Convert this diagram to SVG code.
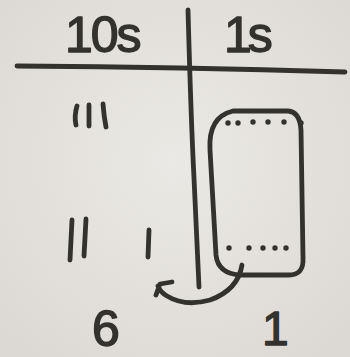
<svg xmlns="http://www.w3.org/2000/svg" width="350" height="357" viewBox="0 0 350 357">
<defs>
<radialGradient id="bg" cx="50%" cy="45%" r="70%">
<stop offset="0" stop-color="#ebe9e5"/>
<stop offset="1" stop-color="#dcd9d4"/>
</radialGradient>
<style>
.ink{fill:none;stroke:#33322f;stroke-width:4.8;stroke-linecap:round;stroke-linejoin:round}
.dot{fill:#33322f}
.t{font-family:"Liberation Sans",Arial,sans-serif;fill:#33322f;stroke:#33322f;stroke-width:1.4;stroke-linejoin:round}
</style>
</defs>
<rect width="350" height="357" fill="url(#bg)"/>
<g id="headers">
<text class="t" x="65" y="52" font-size="50" letter-spacing="-2">10s</text>
<text class="t" x="224" y="52" font-size="50" letter-spacing="-4">1s</text>
</g>
<g id="grid">
<path class="ink" d="M17 66 Q180 67 345 72"/>
<path class="ink" d="M188 10 Q191 120 194 178 Q197 240 199 287"/>
</g>
<g id="tens-tallies">
<path class="ink" d="M77 106 Q74 116 76 125"/>
<path class="ink" d="M89 105 L89 126"/>
<path class="ink" d="M103 104 Q104 117 106 127"/>
<path class="ink" d="M72 220 L70 260"/>
<path class="ink" d="M86 219 L84 256"/>
<path class="ink" d="M149 230 L148 257"/>
</g>
<g id="ones-group">
<path class="ink" d="M233 111 L288 111 Q300 112 301 130 L303 258 Q304 275 289 275 L241 275 Q218 274 216 255 L210 150 Q208 117 233 111 Z"/>
<g class="dot">
<circle cx="228" cy="123" r="2.7"/>
<circle cx="238" cy="123" r="2.7"/>
<circle cx="253" cy="122" r="2.7"/>
<circle cx="268" cy="122" r="2.7"/>
<circle cx="284" cy="122" r="2.7"/>
<circle cx="301" cy="123" r="2.7"/>
<circle cx="229" cy="248" r="2.7"/>
<circle cx="249" cy="248" r="2.7"/>
<circle cx="263" cy="248" r="2.7"/>
<circle cx="275" cy="248" r="2.7"/>
<circle cx="286" cy="248" r="2.7"/>
</g>
</g>
<g id="connectors">
<path class="ink" d="M242 265 Q238 290 210 300 Q185 307 167 296 Q160 292 158 286"/>
<path class="ink" d="M172 282 L160 284 L156 295"/>
</g>
<g id="results">
<text class="t" x="92" y="346" font-size="50">6</text>
<text class="t" x="262" y="345" font-size="48">1</text>
</g>
</svg>
